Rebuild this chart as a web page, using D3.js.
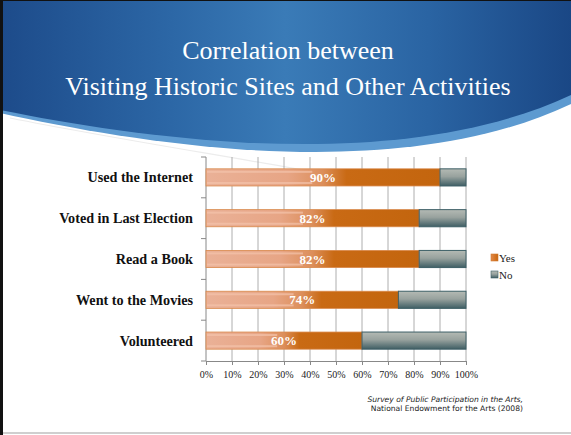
<!DOCTYPE html>
<html><head><meta charset="utf-8">
<script src="https://cdn.jsdelivr.net/npm/d3@7"></script>
<style>html,body{margin:0;padding:0;background:#fff;overflow:hidden}</style>
</head><body>
<svg id="c" width="571" height="435"></svg>
<script>
const categories = ["Used the Internet","Voted in Last Election","Read a Book","Went to the Movies","Volunteered"];
const yesValues = [90,82,82,74,60];
const noValues = [10,18,18,26,40];
const xTicks = [0,10,20,30,40,50,60,70,80,90,100];
const seriesNames = ["Yes","No"];
const titleLines = ["Correlation between","Visiting Historic Sites and Other Activities"];
const sourceLines = ["Survey of Public Participation in the Arts,","National Endowment for the Arts (2008)"];

const svg = d3.select("#c");
const defs = svg.append("defs");

const hg = defs.append("linearGradient").attr("id","hg").attr("x1","0").attr("x2","1").attr("y1","0").attr("y2","0");
[[0,"#1d4b8a"],[0.3,"#2c67a6"],[0.5,"#3a7bb7"],[0.75,"#2a64a3"],[1,"#1a4785"]].forEach(([o,c])=>hg.append("stop").attr("offset",o).attr("stop-color",c));
const yg = defs.append("linearGradient").attr("id","yg").attr("x1","0").attr("x2","1").attr("y1","0").attr("y2","0");
[[0,"#eab197"],[0.35,"#e7a585"],[0.5,"#dc8e5a"],[0.6,"#c96a14"],[1,"#c3650e"]].forEach(([o,c])=>yg.append("stop").attr("offset",o).attr("stop-color",c));
const ng = defs.append("linearGradient").attr("id","ng").attr("x1","0").attr("x2","0").attr("y1","0").attr("y2","1");
[[0,"#b4bab4"],[0.45,"#98a29e"],[1,"#3f5e64"]].forEach(([o,c])=>ng.append("stop").attr("offset",o).attr("stop-color",c));
const lg = defs.append("linearGradient").attr("id","lg").attr("x1","0").attr("x2","1").attr("y1","0").attr("y2","0");
[[0,"#e38a4a"],[1,"#c8650c"]].forEach(([o,c])=>lg.append("stop").attr("offset",o).attr("stop-color",c));

svg.append("path").attr("d","M0,0 H571 V104 C400,185 150,146 0,113 Z").attr("fill","#5d9ad0");
svg.append("path").attr("d","M0,0 H571 V95 C400,175 150,140 0,110 Z").attr("fill","url(#hg)");
svg.append("path").attr("d","M10,118 C120,140 240,158 330,175").attr("fill","none").attr("stroke","#ececec").attr("stroke-width",1.2);

svg.selectAll("text.title").data(titleLines).join("text")
  .attr("x",288).attr("y",(d,i)=>59+i*36).attr("text-anchor","middle")
  .attr("font-family","Liberation Serif, serif").attr("font-size",26).attr("fill","#fff").text(d=>d);

svg.append("rect").attr("x",0).attr("y",0).attr("width",3).attr("height",435).attr("fill","#111");
svg.append("rect").attr("x",0).attr("y",0).attr("width",571).attr("height",1).attr("fill","#111");
svg.append("rect").attr("x",3).attr("y",432).attr("width",568).attr("height",2).attr("fill","#cfcfcf");

const x = d3.scaleLinear().domain([0,100]).range([206,466]);
const y = d3.scaleBand().domain(categories).range([157,361]).paddingInner(0.58).paddingOuter(0.29);
const bandStep = (361-157)/categories.length;

const g = svg.append("g");
g.selectAll("line.grid").data(xTicks.slice(1)).join("line")
  .attr("x1",d=>x(d)).attr("x2",d=>x(d)).attr("y1",157).attr("y2",361)
  .attr("stroke","#9a9a9a").attr("stroke-width",0.8);

g.append("line").attr("x1",206).attr("x2",206).attr("y1",157).attr("y2",361).attr("stroke","#888");
g.selectAll("line.ytick").data(d3.range(categories.length+1)).join("line")
  .attr("x1",201).attr("x2",206).attr("y1",i=>157+i*bandStep).attr("y2",i=>157+i*bandStep).attr("stroke","#888");

const xAxis = d3.axisBottom(x).tickValues(xTicks).tickFormat(d=>d+"%").tickSize(4).tickPadding(6);
const xa = g.append("g").attr("transform","translate(0,361)").call(xAxis);
xa.select(".domain").attr("stroke","#888");
xa.selectAll(".tick line").attr("stroke","#888");
xa.selectAll("text").attr("font-family","Liberation Serif, serif").attr("font-size",10).attr("fill","#222");

g.selectAll("text.cat").data(categories).join("text")
  .attr("x",193).attr("y",d=>y(d)+y.bandwidth()/2).attr("dy","0.35em").attr("text-anchor","end")
  .attr("font-family","Liberation Serif, serif").attr("font-weight","bold").attr("font-size",14.2).attr("fill","#111").text(d=>d);

g.selectAll("rect.yes").data(categories).join("rect")
  .attr("x",x(0)).attr("y",d=>y(d)).attr("width",(d,i)=>x(yesValues[i])-x(0)).attr("height",y.bandwidth())
  .attr("fill","url(#yg)").attr("stroke","#d9884a").attr("stroke-width",0.8);
g.selectAll("rect.yeshi").data(categories).join("rect")
  .attr("x",x(0)+1).attr("y",d=>y(d)+2).attr("width",(d,i)=>(x(yesValues[i])-x(0))*0.45).attr("height",2)
  .attr("fill","#f4c3ab").attr("opacity",0.7);
g.selectAll("rect.yeslo").data(categories).join("rect")
  .attr("x",x(0)+1).attr("y",d=>y(d)+y.bandwidth()-4).attr("width",(d,i)=>(x(yesValues[i])-x(0))*0.45).attr("height",2)
  .attr("fill","#f4c3ab").attr("opacity",0.7);

g.selectAll("rect.no").data(categories).join("rect")
  .attr("x",(d,i)=>x(yesValues[i])).attr("y",d=>y(d)).attr("width",(d,i)=>x(yesValues[i]+noValues[i])-x(yesValues[i])).attr("height",y.bandwidth())
  .attr("fill","url(#ng)").attr("stroke","#3d5f66").attr("stroke-width",1);

g.selectAll("text.val").data(categories).join("text")
  .attr("x",(d,i)=>x(yesValues[i]/2)).attr("y",d=>y(d)+y.bandwidth()/2).attr("dy","0.36em").attr("text-anchor","middle")
  .attr("font-family","Liberation Serif, serif").attr("font-weight","bold").attr("font-size",13).attr("fill","#fff")
  .text((d,i)=>yesValues[i]+"%");

const legColors = ["url(#lg)","url(#ng)"];
const lgG = svg.append("g");
lgG.selectAll("rect").data(seriesNames).join("rect")
  .attr("x",491).attr("y",(d,i)=>254+i*17).attr("width",7).attr("height",7)
  .attr("fill",(d,i)=>legColors[i]).attr("stroke",(d,i)=>i?"#3d5f66":"#d07a30").attr("stroke-width",0.6);
lgG.selectAll("text").data(seriesNames).join("text")
  .attr("x",499).attr("y",(d,i)=>258+i*17).attr("dy","0.35em")
  .attr("font-family","Liberation Serif, serif").attr("font-size",11).attr("fill","#222").text(d=>d);

svg.selectAll("text.src").data(sourceLines).join("text")
  .attr("x",523).attr("y",(d,i)=>402+i*9).attr("text-anchor","end")
  .attr("font-family","DejaVu Sans, sans-serif").attr("font-size",7.6).attr("fill","#222")
  .attr("font-style",(d,i)=>i?"normal":"italic").text(d=>d);
</script>
</body></html>
